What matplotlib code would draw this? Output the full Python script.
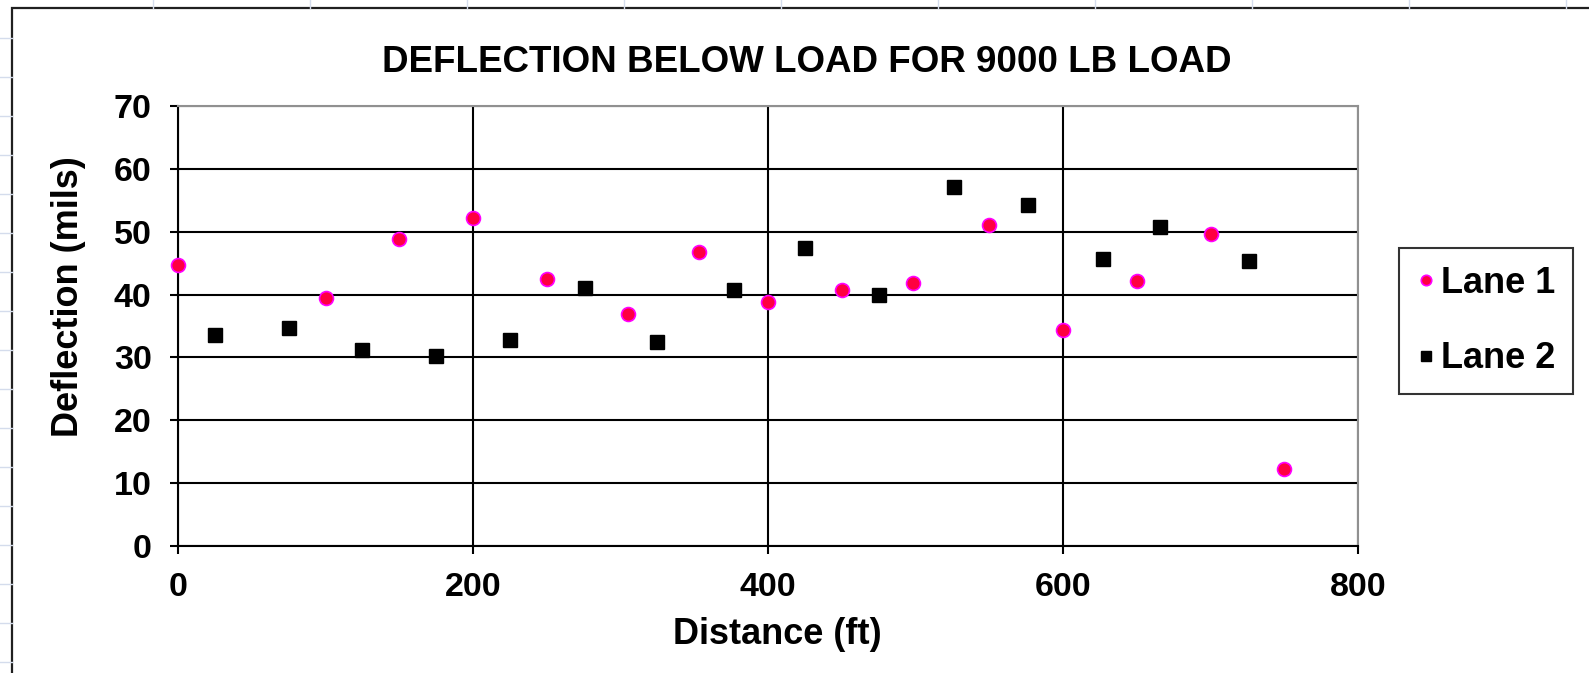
import matplotlib
matplotlib.use('Agg')
import matplotlib.pyplot as plt
from matplotlib.patches import Rectangle
from matplotlib.lines import Line2D

plt.rcParams['font.family'] = ['Liberation Sans', 'DejaVu Sans']
plt.rcParams['font.weight'] = 'bold'

# data
lane1_x = [0, 100, 150, 200, 250, 305, 353, 400, 450, 498, 550, 600, 650, 700, 750]
lane1_y = [44.7, 39.5, 48.8, 52.2, 42.5, 36.9, 46.7, 38.8, 40.7, 41.8, 51.1, 34.3, 42.1, 49.6, 12.3]
lane2_x = [25, 75, 125, 175, 225, 276, 325, 377, 425, 475, 526, 576, 627, 666, 726]
lane2_y = [33.5, 34.7, 31.2, 30.2, 32.8, 41.0, 32.5, 40.8, 47.4, 40.0, 57.1, 54.2, 45.6, 50.8, 45.3]
x_ticks = [0, 200, 400, 600, 800]
y_ticks = [0, 10, 20, 30, 40, 50, 60, 70]

W, H = 1589, 673
fig = plt.figure(figsize=(W / 100, H / 100), dpi=100)

# faint spreadsheet cells behind the chart
for y in range(38, H, 39):
    fig.add_artist(Line2D([0, 12 / W], [1 - y / H, 1 - y / H], color='#d4dcec', lw=1))
for x in range(153, W, 157):
    fig.add_artist(Line2D([x / W, x / W], [1, 1 - 8 / H], color='#d4dcec', lw=1))
# chart area frame
fig.add_artist(Rectangle((12 / W, -0.1), 1.2, 1 - 8 / H + 0.1, transform=fig.transFigure,
                         fill=False, ec='#202020', lw=1.6))

ax = fig.add_axes([178 / W, 1 - 546 / H, (1358 - 178) / W, (546 - 106) / H])
ax.set_xlim(0, 800)
ax.set_ylim(0, 70)
ax.set_xticks(x_ticks)
ax.set_yticks(y_ticks)
ax.grid(True, color='black', lw=1.5)
ax.set_axisbelow(True)
for s in ['top', 'right']:
    ax.spines[s].set_color('#909090')
    ax.spines[s].set_linewidth(1.5)
for s in ['left', 'bottom']:
    ax.spines[s].set_color('black')
    ax.spines[s].set_linewidth(1.5)
ax.tick_params(direction='out', length=6, width=1.5, labelsize=24.5)
ax.tick_params(axis='y', pad=13)
ax.tick_params(axis='x', pad=13)

ax.plot(lane1_x, lane1_y, 'o', ms=10, mfc='#ff0040', mec='#ff00ff', mew=1.2,
        label='Lane 1', clip_on=False, zorder=3)
ax.plot(lane2_x, lane2_y, 's', ms=10, mfc='black', mec='black',
        label='Lane 2', clip_on=False, zorder=3)

fig.text(807 / W, 1 - 63 / H, 'DEFLECTION BELOW LOAD FOR 9000 LB LOAD',
         ha='center', va='center', fontsize=26.5)
fig.text(777 / W, 1 - 634 / H, 'Distance (ft)', ha='center', va='center', fontsize=26)
fig.text(69 / W, 1 - 297 / H, 'Deflection (mils)', ha='center', va='center',
         rotation=90, fontsize=26)

leg = ax.legend(loc='center', bbox_to_anchor=(1486 / W, 1 - 321 / H),
                bbox_transform=fig.transFigure, fontsize=26, frameon=True,
                fancybox=False, edgecolor='black', handlelength=0.5,
                handletextpad=0.15, labelspacing=1.12, borderpad=0.5, markerscale=0.75)
leg.get_frame().set_linewidth(1.5)

fig.savefig('out.png', dpi=100)
